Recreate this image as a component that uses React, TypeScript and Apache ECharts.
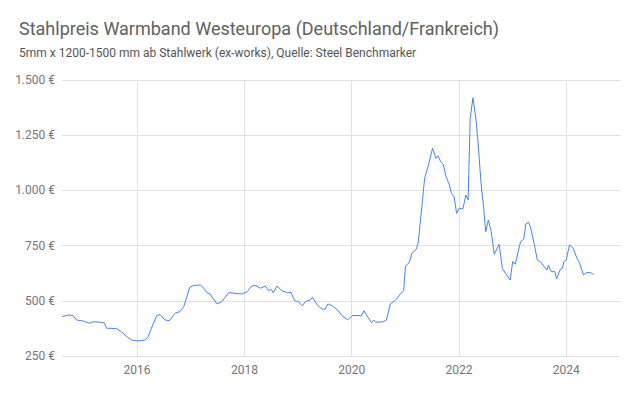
import React, { useEffect, useRef } from "react";
import * as echarts from "echarts";

const titleText = "Stahlpreis Warmband Westeuropa (Deutschland/Frankreich)";
const subtitleText = "5mm x 1200-1500 mm ab Stahlwerk (ex-works), Quelle: Steel Benchmarker";

const dates: string[] = [
  "2014-08-08", "2014-09-20", "2014-10-23", "2014-11-14", "2014-12-28",
  "2015-02-14", "2015-03-08", "2015-04-24", "2015-05-23", "2015-06-07",
  "2015-08-15", "2015-09-16", "2015-10-23", "2015-11-24", "2016-01-08",
  "2016-02-24", "2016-03-17", "2016-04-08", "2016-05-15", "2016-06-06",
  "2016-07-08", "2016-08-08", "2016-09-16", "2016-10-20", "2016-11-14",
  "2016-12-06", "2016-12-24", "2017-01-19", "2017-03-08", "2017-03-30",
  "2017-04-20", "2017-05-12", "2017-06-28", "2017-07-31", "2017-09-16",
  "2017-10-30", "2017-12-16", "2018-01-19", "2018-02-20", "2018-03-20",
  "2018-04-20", "2018-05-23", "2018-06-14", "2018-07-02", "2018-07-16",
  "2018-08-11", "2018-09-13", "2018-10-20", "2018-11-14", "2018-12-09",
  "2019-01-04", "2019-01-30", "2019-02-20", "2019-03-25", "2019-04-08",
  "2019-05-12", "2019-06-14", "2019-07-05", "2019-07-23", "2019-08-22",
  "2019-09-27", "2019-10-30", "2019-12-05", "2020-01-04", "2020-02-20",
  "2020-03-06", "2020-03-25", "2020-04-16", "2020-05-15", "2020-05-30",
  "2020-06-14", "2020-07-27", "2020-08-25", "2020-09-20", "2020-10-27",
  "2020-12-02", "2020-12-20", "2021-01-02", "2021-01-27", "2021-02-14",
  "2021-03-15", "2021-03-29", "2021-04-16", "2021-05-12", "2021-06-07",
  "2021-07-05", "2021-07-27", "2021-08-11", "2021-08-29", "2021-09-16",
  "2021-10-05", "2021-10-27", "2021-11-10", "2021-11-28", "2021-12-16",
  "2022-01-01", "2022-01-27", "2022-02-17", "2022-03-04", "2022-03-18",
  "2022-04-06", "2022-04-28", "2022-05-12", "2022-05-30", "2022-06-18",
  "2022-07-02", "2022-07-20", "2022-08-08", "2022-08-29", "2022-10-01",
  "2022-10-23", "2022-11-18", "2022-12-16", "2023-01-01", "2023-01-19",
  "2023-02-24", "2023-03-18", "2023-04-01", "2023-04-20", "2023-05-04",
  "2023-05-27", "2023-06-18", "2023-07-12", "2023-08-04", "2023-08-23",
  "2023-09-02", "2023-09-20", "2023-10-16", "2023-10-27", "2023-11-22",
  "2023-12-06", "2023-12-16", "2024-01-01", "2024-01-23", "2024-02-17",
  "2024-03-14", "2024-04-01", "2024-04-27", "2024-05-19", "2024-06-14",
  "2024-07-05",
];

const prices: number[] = [
  428, 436, 433, 413, 409,
  398, 405, 403, 400, 376,
  374, 360, 338, 323, 318,
  323, 338, 376, 434, 438,
  413, 410, 444, 451, 474,
  519, 561, 569, 572, 557,
  537, 531, 486, 496, 537,
  534, 531, 541, 567, 569,
  557, 567, 546, 552, 537,
  567, 546, 537, 537, 501,
  496, 477, 496, 504, 516,
  481, 462, 463, 486, 477,
  459, 431, 413, 433, 433,
  431, 455, 431, 401, 413,
  403, 404, 413, 486, 504,
  534, 546, 658, 673, 715,
  733, 761, 881, 1055, 1115,
  1191, 1145, 1157, 1130, 1118,
  1062, 1025, 987, 972, 896,
  919, 916, 979, 957, 1327,
  1420, 1311, 1206, 1040, 919,
  813, 866, 813, 711, 756,
  647, 620, 594, 677, 666,
  768, 780, 848, 856, 829,
  761, 685, 675, 655, 640,
  662, 632, 632, 599, 643,
  647, 677, 685, 753, 738,
  693, 670, 617, 628, 628,
  620,
];

const xTickYears: number[] = [2016, 2018, 2020, 2022, 2024];

const xMin = "2014-08-08";
const xMax = "2025-01-01";

function toTime(d: string): number {
  return new Date(`${d}T00:00:00Z`).getTime();
}

function formatEuro(v: number): string {
  const s = Math.round(v).toString().replace(/\B(?=(\d{3})+(?!\d))/g, ".");
  return s + " €";
}

export default function App() {
  const ref = useRef<HTMLDivElement>(null);

  useEffect(() => {
    if (!ref.current) return;
    const chart = echarts.init(ref.current, undefined, { renderer: "svg" });
    const tickTimes = xTickYears.map((y) => toTime(`${y}-01-01`));
    chart.setOption({
      animation: false,
      textStyle: { fontFamily: "Roboto" },
      title: [
        {
          text: titleText,
          left: 19,
          top: 19,
          padding: 0,
          textStyle: { fontFamily: "Roboto", fontSize: 18, fontWeight: "normal", color: "#616161" },
        },
        {
          text: subtitleText,
          left: 19,
          top: 47,
          padding: 0,
          textStyle: { fontFamily: "Roboto", fontSize: 12, fontWeight: "normal", color: "#555" },
        },
      ],
      grid: { left: 62, right: 20, top: 80, bottom: 40, containLabel: false },
      xAxis: {
        type: "value",
        min: toTime(xMin),
        max: toTime(xMax),
        axisLine: { show: false },
        axisTick: { show: false, customValues: tickTimes },
        axisLabel: {
          customValues: tickTimes,
          formatter: (v: number) => String(new Date(v).getUTCFullYear()),
          color: "#757575",
          fontSize: 12,
          fontFamily: "Roboto",
          margin: 8,
          hideOverlap: false,
          showMinLabel: true,
          showMaxLabel: true,
        },
        splitLine: { show: true, lineStyle: { color: "#e0e0e0", width: 1 } },
      },
      yAxis: {
        type: "value",
        min: 250,
        max: 1500,
        interval: 250,
        axisLine: { show: false },
        axisTick: { show: false },
        axisLabel: {
          formatter: (v: number) => formatEuro(v),
          color: "#757575",
          fontSize: 12,
          fontFamily: "Roboto",
          margin: 7,
        },
        splitLine: { show: true, lineStyle: { color: "#e0e0e0", width: 1 } },
      },
      series: [
        {
          type: "line",
          data: dates.map((d, i) => [toTime(d), prices[i]]),
          showSymbol: false,
          symbol: "none",
          lineStyle: { color: "#4285f4", width: 1 },
          itemStyle: { color: "#4285f4" },
        },
      ],
    });
    return () => chart.dispose();
  }, []);

  return <div ref={ref} style={{ width: 640, height: 396, position: "absolute", left: 0, top: 0 }} />;
}
